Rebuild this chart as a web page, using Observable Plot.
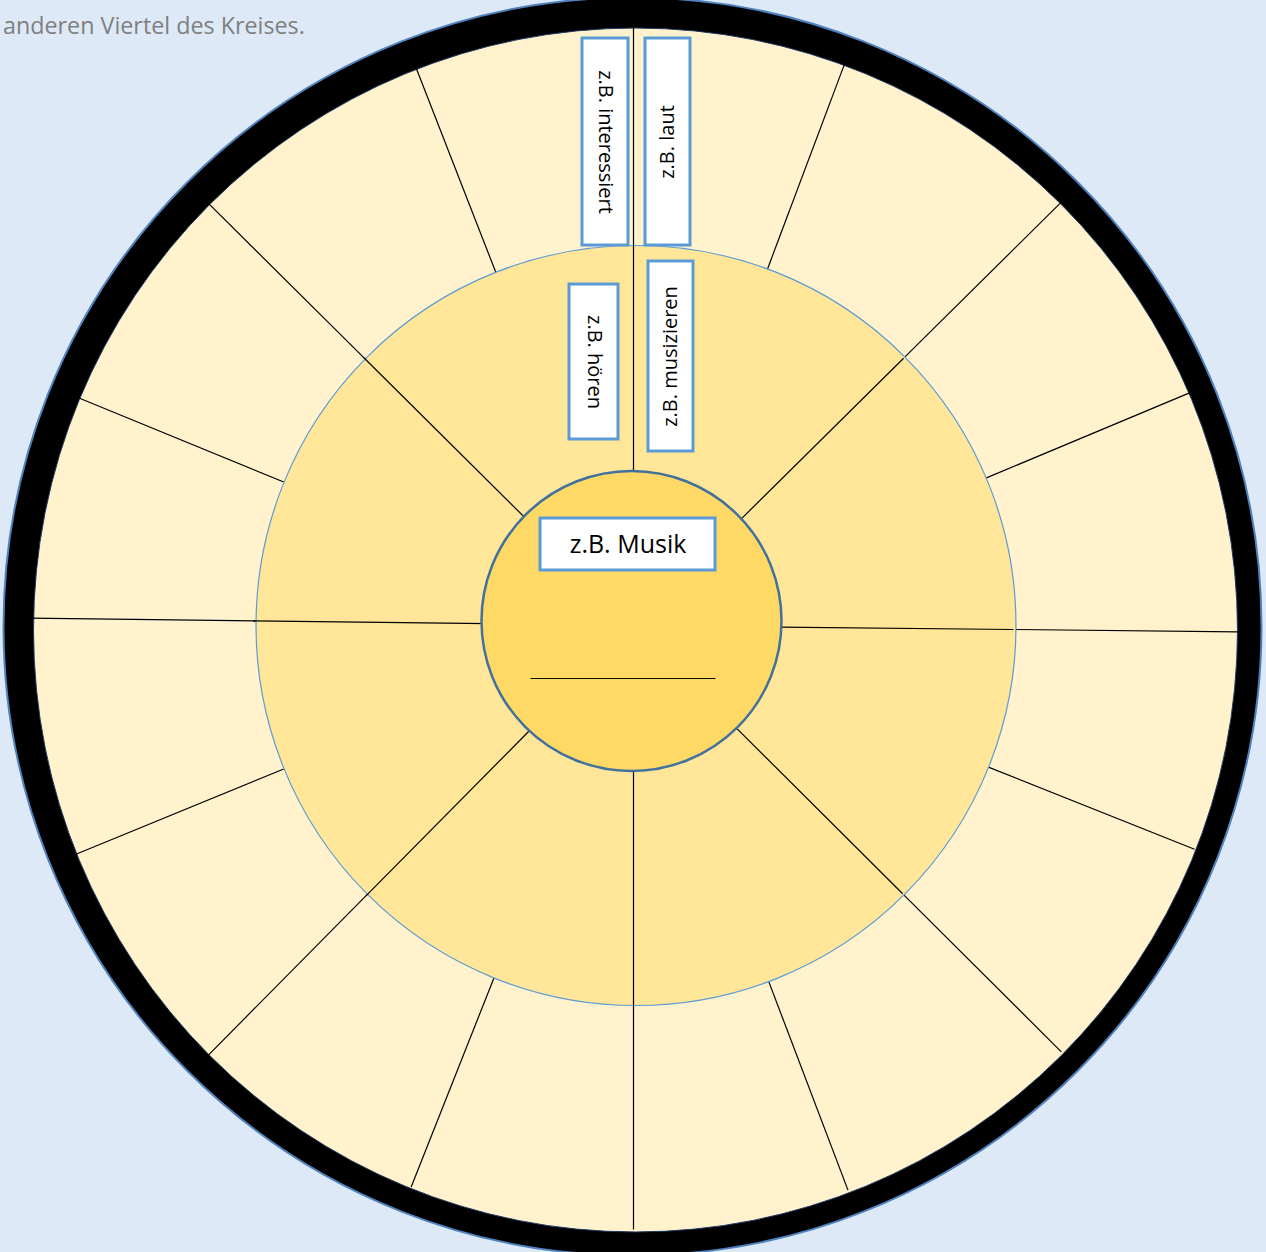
<!DOCTYPE html>
<html><head><meta charset="utf-8">
<script src="https://cdn.jsdelivr.net/npm/d3@7"></script>
<script src="https://cdn.jsdelivr.net/npm/@observablehq/plot@0.6"></script>
<style>
body{margin:0;background:#dde9f6;font-family:"Open Sans",sans-serif;}
#wrap{position:relative;width:1266px;height:1252px;overflow:hidden}
#note{position:absolute;left:3px;top:11px;color:#7f7f7f;font-size:23.3px;line-height:28px;white-space:nowrap}
</style></head><body>
<div id="wrap"><div id="chart"></div><div id="note">anderen Viertel des Kreises.</div></div>
<script>
// Spoke angles (degrees clockwise from top)
const outerSpokeAngles = [0, 20.6, 45.3, 67.3, 90.6, 111.75, 134.9, 159.2, 180, 201.6, 224.7, 247.7, 270.7, 292.3, 314.8, 338.7];
const middleSpokeAngles = [0, 45.3, 90.6, 134.9, 180, 224.7, 270.7, 314.8];
// Labels
const outerLabels = ["z.B. interessiert", "z.B. laut"];
const middleLabels = ["z.B. hören", "z.B. musizieren"];
const centerLabel = "z.B. Musik";

// Layout
const W = 1266, H = 1252;
const C = {x: 633, y: 625};
const R = {center: 150, middle: 380, outer: 602};

function spoke(a, r1, r2) {
  const t = a * Math.PI / 180;
  return {x1: C.x + r1 * Math.sin(t), y1: C.y - r1 * Math.cos(t),
          x2: C.x + r2 * Math.sin(t), y2: C.y - r2 * Math.cos(t)};
}
const outerSpokes = outerSpokeAngles.map(a => spoke(a, R.middle - 2, R.outer + 2));
const middleSpokes = middleSpokeAngles.map(a => spoke(a, R.center - 4, R.middle));

const boxes = [
  {label: outerLabels[0], x1: 582, x2: 628, y1: 38, y2: 245, rotate: 90},
  {label: outerLabels[1], x1: 645, x2: 690, y1: 38, y2: 245, rotate: -90},
  {label: middleLabels[0], x1: 569, x2: 618, y1: 284, y2: 439, rotate: 90},
  {label: middleLabels[1], x1: 648, x2: 693, y1: 261, y2: 451, rotate: -90},
  {label: centerLabel, x1: 540, x2: 715, y1: 518, y2: 570, rotate: 0}
];
boxes.forEach(b => { b.cx = (b.x1 + b.x2) / 2; b.cy = (b.y1 + b.y2) / 2; });

const plot = Plot.plot({
  width: W, height: H,
  margin: 0,
  x: {domain: [0, W], range: [0, W], axis: null},
  y: {domain: [0, H], range: [0, H], axis: null},
  style: {background: "transparent"},
  marks: [
    Plot.dot([{x: 632, y: 626}], {x: "x", y: "y", r: 629, fill: "#000", stroke: "#4f81bd", strokeWidth: 2}),
    Plot.dot([{x: 635, y: 629.5}], {x: "x", y: "y", r: 602, fill: "#fff2cc", stroke: "#1f3864", strokeWidth: 1}),
    Plot.link(outerSpokes, {x1: "x1", y1: "y1", x2: "x2", y2: "y2", stroke: "#000", strokeWidth: 1.2}),
    Plot.dot([{x: 635.5, y: 625}], {x: "x", y: "y", r: R.middle, fill: "#ffe699", stroke: "#5b9bd5", strokeWidth: 1.2}),
    Plot.link(middleSpokes, {x1: "x1", y1: "y1", x2: "x2", y2: "y2", stroke: "#000", strokeWidth: 1.2}),
    Plot.dot([{x: 631, y: 620.5}], {x: "x", y: "y", r: R.center, fill: "#ffd966", stroke: "#41719c", strokeWidth: 2.5}),
    Plot.link([{x1: 530, x2: 715, y: 678}], {x1: "x1", x2: "x2", y1: "y", y2: "y", stroke: "#000", strokeWidth: 1.2}),
    Plot.rect(boxes, {x1: "x1", x2: "x2", y1: "y1", y2: "y2", fill: "#fff", stroke: "#5b9bd5", strokeWidth: 3}),
    Plot.text(boxes.filter(b => b.rotate === 90), {x: "cx", y: "cy", text: "label", rotate: 90, fontSize: 20, fontFamily: "Open Sans", fill: "#000"}),
    Plot.text(boxes.filter(b => b.rotate === -90), {x: "cx", y: "cy", text: "label", rotate: -90, fontSize: 20, fontFamily: "Open Sans", fill: "#000"}),
    Plot.text(boxes.filter(b => b.rotate === 0), {x: "cx", y: "cy", text: "label", fontSize: 25, fontFamily: "Open Sans", fill: "#000"})
  ]
});
document.getElementById("chart").appendChild(plot);
</script>
</body></html>
